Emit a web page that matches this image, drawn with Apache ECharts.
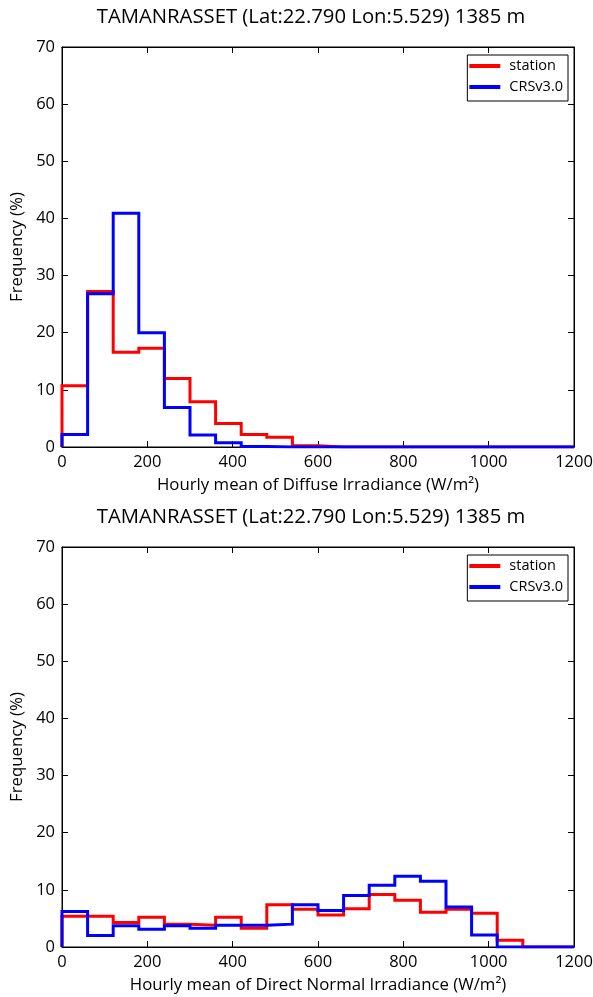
<!DOCTYPE html>
<html>
<head>
<meta charset="utf-8">
<script src="https://cdn.jsdelivr.net/npm/echarts@6/dist/echarts.min.js"></script>
<style>
html,body{margin:0;padding:0;background:#fff;}
#chart{width:593px;height:997px;}
</style>
</head>
<body>
<div id="chart"></div>
<script>
const binEdges = [0,60,120,180,240,300,360,420,480,540,600,660,720,780,840,900,960,1020,1080,1140,1200];
const titleText = 'TAMANRASSET (Lat:22.790 Lon:5.529) 1385 m';
const diffuseStation = [10.7,27.2,16.6,17.3,12.0,7.9,4.1,2.2,1.7,0.2,0,0,0,0,0,0,0,0,0,0];
const diffuseCRS     = [2.2,26.8,40.9,20.0,6.9,2.1,0.75,0.1,0,0,0,0,0,0,0,0,0,0,0,0];
const directStation  = [5.4,5.4,4.3,5.2,4.0,3.8,5.2,3.3,7.4,6.6,5.6,6.7,9.2,8.2,6.1,6.6,5.9,1.2,0,0];
const directCRS      = [6.2,2.0,3.7,3.1,3.7,3.3,3.8,3.8,4.0,7.4,6.4,9.0,10.8,12.4,11.5,7.0,2.1,0,0,0];
const xTicks = [0,200,400,600,800,1000,1200];
const yTicks = [0,10,20,30,40,50,60,70];

function stepPoints(vals){
  const pts = [[binEdges[0],0]];
  for(let i=0;i<vals.length;i++){
    pts.push([binEdges[i],vals[i]]);
    pts.push([binEdges[i+1],vals[i]]);
  }
  pts.push([binEdges[binEdges.length-1],0]);
  return pts;
}

const FONT = 'Open Sans';
const grids = [
  {left:62, top:47, width:512, height:400, show:true, borderColor:'#000', borderWidth:1, containLabel:false, outerBoundsMode:'none'},
  {left:62, top:547, width:512, height:400, show:true, borderColor:'#000', borderWidth:1, containLabel:false, outerBoundsMode:'none'}
];
const xNames = ['Hourly mean of Diffuse Irradiance (W/m²)','Hourly mean of Direct Normal Irradiance (W/m²)'];
const plain = v => String(v);

const xAxes = [], yAxes = [];
for(let g=0; g<2; g++){
  xAxes.push({
    type:'value', gridIndex:g, min:xTicks[0], max:xTicks[xTicks.length-1], interval:200, position:'bottom', z:3,
    name:xNames[g], nameLocation:'middle', nameGap:30,
    nameTextStyle:{fontFamily:FONT, fontSize:16.8, color:'#000'},
    axisLine:{show:true, onZero:false, lineStyle:{color:'#000', width:1}},
    axisTick:{show:true, inside:true, length:6, lineStyle:{color:'#000'}},
    axisLabel:{show:true, margin:7, fontFamily:FONT, fontSize:16.5, color:'#000', formatter:plain, hideOverlap:false},
    splitLine:{show:false}
  });
  xAxes.push({
    type:'value', gridIndex:g, min:xTicks[0], max:xTicks[xTicks.length-1], interval:200, position:'top', z:3,
    axisLine:{show:true, onZero:false, lineStyle:{color:'#000', width:1}},
    axisTick:{show:true, inside:true, length:6, lineStyle:{color:'#000'}},
    axisLabel:{show:false}, splitLine:{show:false}
  });
  yAxes.push({
    type:'value', gridIndex:g, min:yTicks[0], max:yTicks[yTicks.length-1], interval:10, position:'left', z:3,
    name:'Frequency (%)', nameLocation:'middle', nameGap:29, nameRotate:90,
    nameTextStyle:{fontFamily:FONT, fontSize:16.8, color:'#000'},
    axisLine:{show:true, onZero:false, lineStyle:{color:'#000', width:1}},
    axisTick:{show:true, inside:true, length:6, lineStyle:{color:'#000'}},
    axisLabel:{show:true, margin:7, fontFamily:FONT, fontSize:16.5, color:'#000', formatter:plain},
    splitLine:{show:false}
  });
  yAxes.push({
    type:'value', gridIndex:g, min:yTicks[0], max:yTicks[yTicks.length-1], interval:10, position:'right', z:3,
    axisLine:{show:true, onZero:false, lineStyle:{color:'#000', width:1}},
    axisTick:{show:true, inside:true, length:6, lineStyle:{color:'#000'}},
    axisLabel:{show:false}, splitLine:{show:false}
  });
}

function mkSeries(name, vals, color, g){
  return {
    name:name, type:'line', xAxisIndex:g*2, yAxisIndex:g*2,
    data:stepPoints(vals), symbol:'none', silent:true, animation:false,
    lineStyle:{color:color, width:3, cap:'butt', join:'miter'},
    itemStyle:{color:color}
  };
}

function mkLegend(top){
  return {
    top:top, right:25, orient:'vertical', selectedMode:false, z:4,
    data:['station','CRSv3.0'],
    icon:'rect', itemWidth:31, itemHeight:4, itemGap:5,
    backgroundColor:'#fff', borderColor:'#000', borderWidth:1, borderRadius:0,
    padding:[3,5,6,2],
    textStyle:{fontFamily:FONT, fontSize:14.5, lineHeight:16, color:'#000', padding:[0,0,0,4]}
  };
}

const chart = echarts.init(document.getElementById('chart'), null, {renderer:'canvas'});
chart.setOption({
  animation:false,
  backgroundColor:'#fff',
  title:[
    {text:titleText, left:306, top:2, textAlign:'center', textStyle:{fontFamily:FONT, fontSize:20.3, fontWeight:'normal', color:'#000'}},
    {text:titleText, left:306, top:502, textAlign:'center', textStyle:{fontFamily:FONT, fontSize:20.3, fontWeight:'normal', color:'#000'}}
  ],
  grid:grids,
  xAxis:xAxes,
  yAxis:yAxes,
  legend:[mkLegend(55), mkLegend(555)],
  series:[
    mkSeries('station', diffuseStation, '#ff0000', 0),
    mkSeries('CRSv3.0', diffuseCRS, '#0000ff', 0),
    mkSeries('station', directStation, '#ff0000', 1),
    mkSeries('CRSv3.0', directCRS, '#0000ff', 1)
  ]
});
</script>
</body>
</html>
